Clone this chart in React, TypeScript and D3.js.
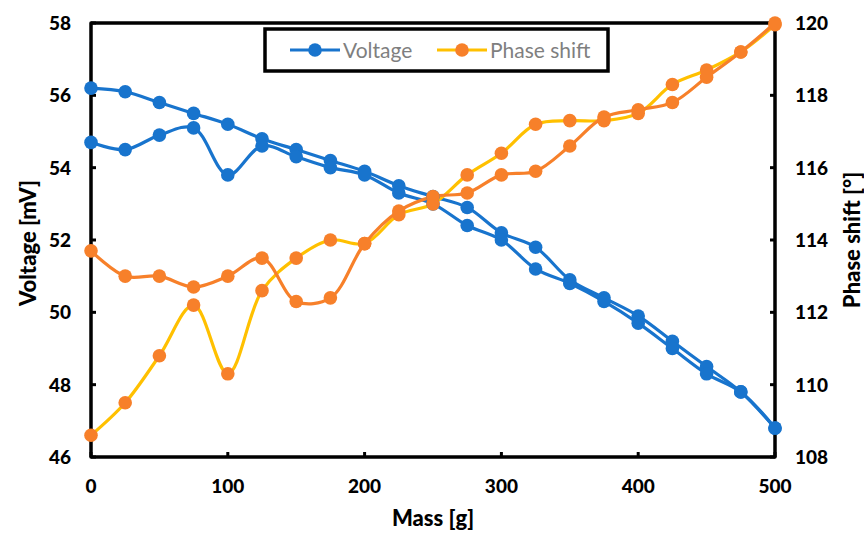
import React from "react";
import * as d3 from "d3";

// Mass steps (g)
const mass = [0, 25, 50, 75, 100, 125, 150, 175, 200, 225, 250, 275, 300, 325, 350, 375, 400, 425, 450, 475, 500];

// Voltage (mV), two measurement runs
const voltageRunA = [56.2, 56.1, 55.8, 55.5, 55.2, 54.8, 54.5, 54.2, 53.9, 53.5, 53.2, 52.9, 52.2, 51.8, 50.9, 50.4, 49.9, 49.2, 48.5, 47.8, 46.8];
const voltageRunB = [54.7, 54.5, 54.9, 55.1, 53.8, 54.6, 54.3, 54.0, 53.8, 53.3, 53.0, 52.4, 52.0, 51.2, 50.8, 50.3, 49.7, 49.0, 48.3, 47.8, 46.8];

// Phase shift (°), two measurement runs
const phaseRunA = [108.6, 109.5, 110.8, 112.2, 110.3, 112.6, 113.5, 114.0, 113.9, 114.7, 115.0, 115.8, 116.4, 117.2, 117.3, 117.3, 117.5, 118.3, 118.7, 119.2, 119.95];
const phaseRunB = [113.7, 113.0, 113.0, 112.7, 113.0, 113.5, 112.3, 112.4, 113.9, 114.8, 115.2, 115.3, 115.8, 115.9, 116.6, 117.4, 117.6, 117.8, 118.5, 119.2, 120.0];

const xTicks = [0, 100, 200, 300, 400, 500];
const voltageTicks = [46, 48, 50, 52, 54, 56, 58];
const phaseTicks = [108, 110, 112, 114, 116, 118, 120];

const BLUE = "#1874CD";
const ORANGE = "#F7802A";
const YELLOW = "#FFC000";
const FONT = "Lato, 'Open Sans', sans-serif";

export default function App() {
  const width = 864;
  const height = 533;
  const left = 91;
  const right = 775;
  const top = 23;
  const bottom = 457;

  const x = d3.scaleLinear().domain([0, 500]).range([left, right]);
  const yV = d3.scaleLinear().domain([46, 58]).range([bottom, top]);
  const yP = d3.scaleLinear().domain([108, 120]).range([bottom, top]);

  const curve = d3.curveCatmullRom.alpha(0.5);
  const lineV = d3.line<number>().x((_, i) => x(mass[i])).y((d) => yV(d)).curve(curve);
  const lineP = d3.line<number>().x((_, i) => x(mass[i])).y((d) => yP(d)).curve(curve);

  const markerR = 6.8;
  const lineW = 3.2;

  const series = [
    { values: voltageRunA, path: lineV, y: yV, line: BLUE, fill: BLUE },
    { values: voltageRunB, path: lineV, y: yV, line: BLUE, fill: BLUE },
    { values: phaseRunA, path: lineP, y: yP, line: YELLOW, fill: ORANGE },
    { values: phaseRunB, path: lineP, y: yP, line: ORANGE, fill: ORANGE },
  ];

  const tickLen = 5;

  return (
    <svg width={width} height={height} style={{ position: "absolute", left: 0, top: 0, background: "#fff" }}>
      <rect x={0} y={0} width={width} height={height} fill="#fff" />

      {/* series lines */}
      {series.map((s, k) => (
        <path key={`l${k}`} d={s.path(s.values) || ""} fill="none" stroke={s.line} strokeWidth={lineW} strokeLinejoin="round" />
      ))}

      {/* ticks inside the frame */}
      {voltageTicks.map((t) => (
        <line key={`lt${t}`} x1={left} x2={left + tickLen} y1={yV(t)} y2={yV(t)} stroke="#000" strokeWidth={3} />
      ))}
      {phaseTicks.map((t) => (
        <line key={`rt${t}`} x1={right - tickLen} x2={right} y1={yP(t)} y2={yP(t)} stroke="#000" strokeWidth={3} />
      ))}
      {xTicks.map((t) => (
        <line key={`bt${t}`} x1={x(t)} x2={x(t)} y1={bottom} y2={bottom - tickLen} stroke="#000" strokeWidth={3} />
      ))}

      {/* plot frame */}
      <rect x={left} y={top} width={right - left} height={bottom - top} fill="none" stroke="#000" strokeWidth={3.5} strokeLinejoin="round" />

      {/* markers */}
      {series.map((s, k) => (
        <g key={`m${k}`}>
          {s.values.map((v, i) => (
            <circle key={i} cx={x(mass[i])} cy={s.y(v)} r={markerR} fill={s.fill} />
          ))}
        </g>
      ))}

      {/* tick labels */}
      <g fontFamily={FONT} fontWeight={900} fontSize={19} fill="#000">
        {voltageTicks.map((t) => (
          <text key={`vl${t}`} x={71} y={yV(t)} dy="0.36em" textAnchor="end">{t}</text>
        ))}
        {phaseTicks.map((t) => (
          <text key={`pl${t}`} x={795} y={yP(t)} dy="0.36em" textAnchor="start">{t}</text>
        ))}
        {xTicks.map((t) => (
          <text key={`xl${t}`} x={x(t)} y={486} dy="0.36em" textAnchor="middle">{t}</text>
        ))}
      </g>

      {/* axis titles */}
      <g fontFamily={FONT} fontWeight={900} fontSize={22} fill="#000">
        <text x={433} y={518} dy="0.36em" textAnchor="middle">Mass [g]</text>
        <text transform="translate(28,243) rotate(-90)" dy="0.36em" textAnchor="middle">Voltage [mV]</text>
        <text transform="translate(852,240) rotate(-90)" dy="0.36em" textAnchor="middle">Phase shift [°]</text>
      </g>

      {/* legend */}
      <g>
        <rect x={265} y={29} width={343} height={42} fill="#fff" stroke="#000" strokeWidth={3.5} />
        <line x1={290} x2={340} y1={50} y2={50} stroke={BLUE} strokeWidth={lineW} />
        <circle cx={315} cy={50} r={markerR} fill={BLUE} />
        <text x={343} y={50} dy="0.36em" fontFamily={FONT} fontSize={21} fill="#7F7F7F">Voltage</text>
        <line x1={437} x2={487} y1={50} y2={50} stroke={YELLOW} strokeWidth={lineW} />
        <circle cx={462} cy={50} r={markerR} fill={ORANGE} />
        <text x={490} y={50} dy="0.36em" fontFamily={FONT} fontSize={21} fill="#7F7F7F">Phase shift</text>
      </g>
    </svg>
  );
}
